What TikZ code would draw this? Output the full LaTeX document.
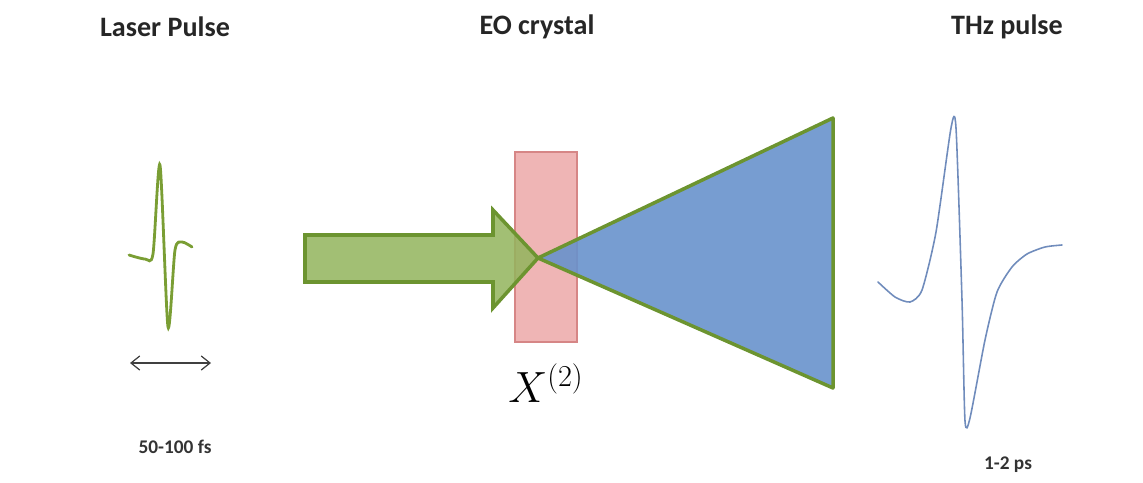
\documentclass[tikz,border=0pt]{standalone}
\usepackage{fontspec}
\setsansfont{Carlito}
\usepackage{tikz}
\usetikzlibrary{arrows.meta,positioning}
\definecolor{pulsegreen}{RGB}{122,158,52}
\definecolor{arrowfill}{RGB}{146,180,92}
\definecolor{edgegreen}{RGB}{108,148,48}
\definecolor{crystalpink}{RGB}{236,168,168}
\definecolor{crystaledge}{RGB}{214,134,134}
\definecolor{conefill}{RGB}{104,146,204}
\definecolor{thzblue}{RGB}{112,140,188}

\begin{document}
\begin{tikzpicture}[x=0.02cm, y=-0.02cm,
    title/.style={font=\sffamily\bfseries\fontsize{16}{18}\selectfont, text=black!85},
    small/.style={font=\sffamily\bfseries\fontsize{11}{13}\selectfont, text=black!80}]
  \useasboundingbox (0,0) rectangle (1143,483);
  % headings
  \node[title] (laser) at (165,27) {Laser Pulse};
  \node[title] (eo) at (537,27) {EO crystal};
  \node[title] (thz) at (1007,27) {THz pulse};
  % crystal
  \fill[crystalpink, opacity=0.85] (515,152) rectangle (577,342);
  \draw[crystaledge, line width=1pt] (515,152) rectangle (577,342);
  % pump beam
  \draw[edgegreen, line width=2pt, fill=arrowfill, fill opacity=0.85, line join=miter]
    (305,235) -- (493,235) -- (493,210) -- (538,258) -- (493,308) -- (493,282) -- (305,282) -- cycle;
  % THz cone
  \draw[edgegreen, line width=2pt, fill=conefill, fill opacity=0.9, line join=round]
    (538,258) -- (833,118) -- (833,388) -- cycle;
  \node[font=\fontsize{23}{26}\selectfont] (chi) at (546,383) {$X^{(2)}$};
  % optical pulse
  \draw[pulsegreen, line width=1.6pt, line cap=round]
    plot[smooth, tension=0.45] coordinates {(129,255) (145,259) (153,254) (160,165)
      (168,327) (175,250) (182,242) (192,247)};
  \coordinate (dl) at (130,363);
  \coordinate (dr) at (211,363);
  \draw[{Straight Barb[length=5pt,width=8pt]}-{Straight Barb[length=5pt,width=8pt]}, black!75, line width=0.7pt] (dl) -- (dr);
  \node[small] (fs) at (175,447) {50-100 fs};
  % THz pulse
  \draw[thzblue, line width=0.9pt, line cap=round]
    plot[smooth, tension=0.4] coordinates {(878,282) (895,297) (910,302) (922,290)
      (936,232) (951,128) (956,128) (962,300) (965,421) (970,418) (985,340)
      (997,292) (1012,267) (1027,254) (1045,247) (1062,245)};
  \node[small] (ps) at (1008,465) {1-2 ps};
\end{tikzpicture}
\end{document}
